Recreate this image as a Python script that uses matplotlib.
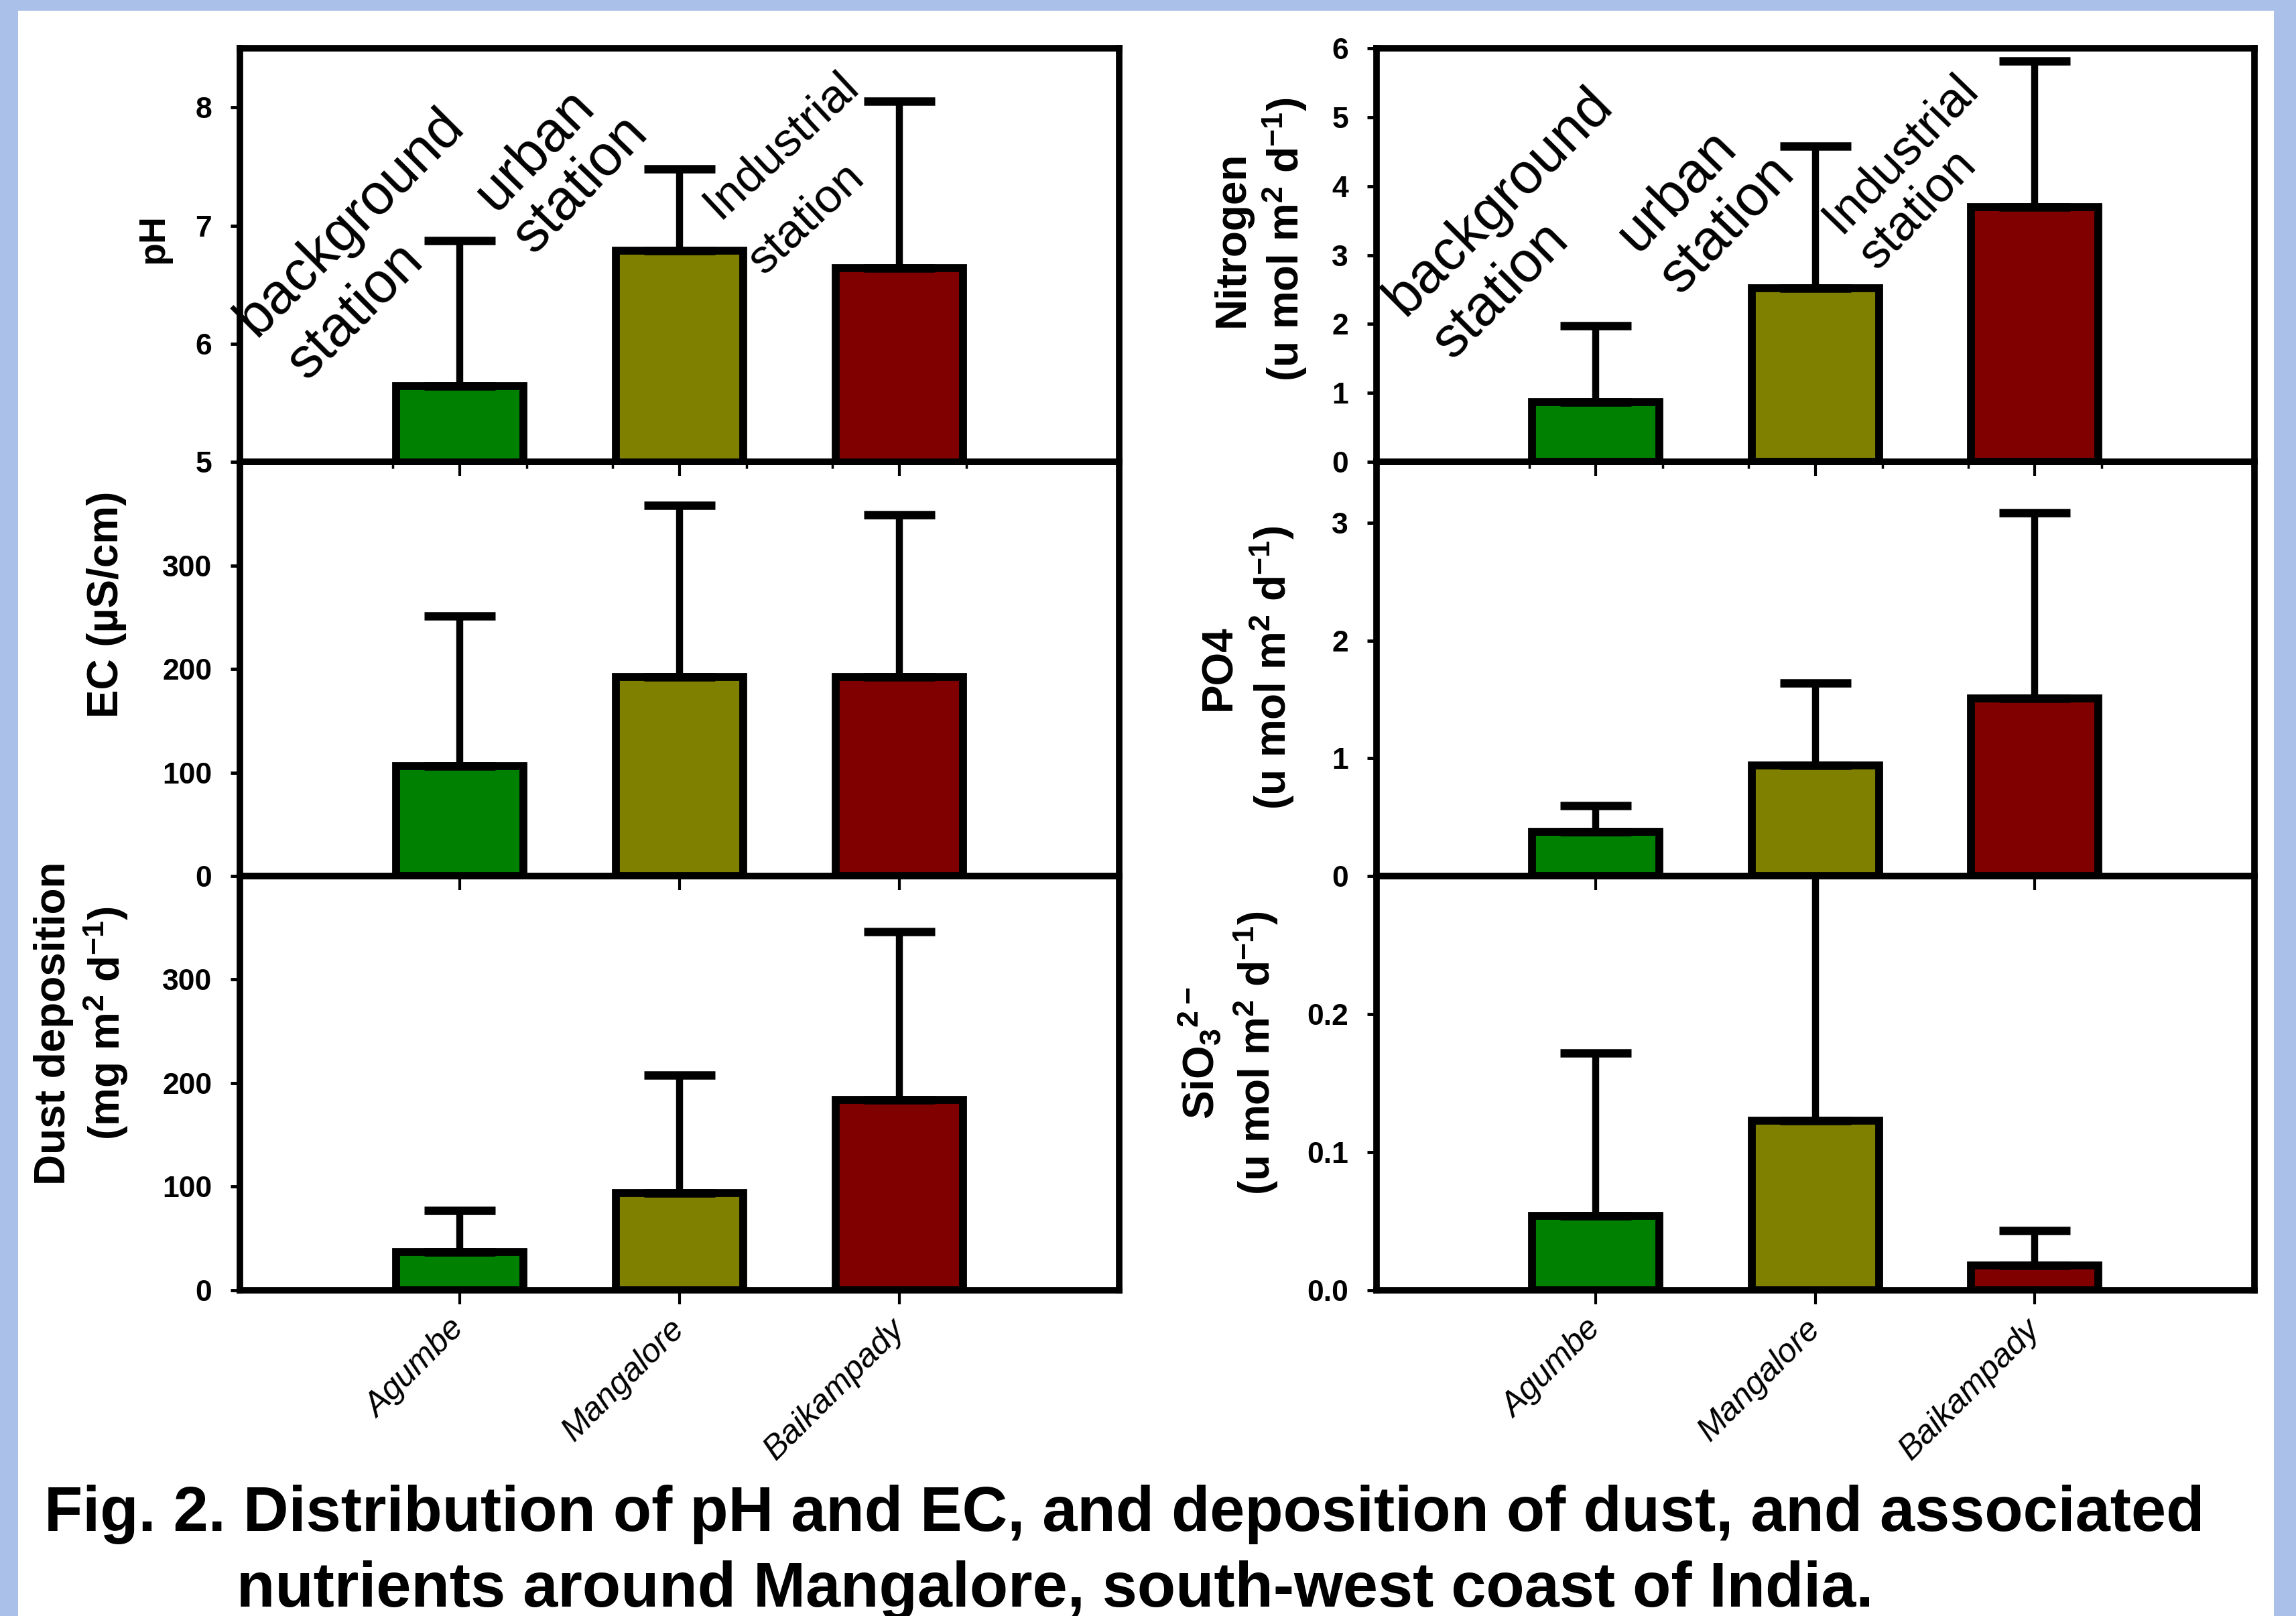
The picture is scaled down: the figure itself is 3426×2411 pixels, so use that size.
import numpy as np
import matplotlib
matplotlib.use('Agg')
import matplotlib.pyplot as plt
from matplotlib.patches import Rectangle
from matplotlib.ticker import FormatStrFormatter

##########################################################################
# data
##########################################################################
sites = ['Agumbe', 'Mangalore', 'Baikampady']
bar_colors = ['#008000', '#808000', '#800000']

ph_mean = [5.64, 6.79, 6.64]
ph_sd = [1.23, 0.69, 1.41]
ec_mean = [106, 192, 192]
ec_sd = [145, 166, 157]
dust_mean = [37, 94, 184]
dust_sd = [40, 114, 162]

nitrogen_mean = [0.87, 2.52, 3.70]
nitrogen_sd = [1.10, 2.06, 2.12]
po4_mean = [0.375, 0.94, 1.51]
po4_sd = [0.225, 0.70, 1.58]
sio3_mean = [0.054, 0.123, 0.018]
sio3_sd = [0.118, 0.25, 0.025]

caption = ['Fig. 2. Distribution of pH and EC, and deposition of dust, and associated',
           'nutrients around Mangalore, south-west coast of India.']

##########################################################################
# style
##########################################################################
plt.rcParams['font.family'] = ['Liberation Sans', 'DejaVu Sans']
plt.rcParams['mathtext.default'] = 'regular'

W = 0.58          # bar width
LW = 7            # spine width

fig = plt.figure(figsize=(34.26, 24.11), dpi=100)
fig.patch.set_facecolor('#abc0e8')
fig.patches.append(Rectangle((27/3426, 0), (3393-27)/3426, 1-16/2411,
                             transform=fig.transFigure, facecolor='white',
                             edgecolor='none', zorder=-10))


def panel(rect, mean, sd, ylim, yticks, ylabel, label_xy, fmt='%d',
          edge_ticks=False, xlabels=False, label_size=46):
    ax = fig.add_axes(rect)
    ax.patch.set_alpha(0)
    x = np.arange(1, len(sites) + 1)
    ax.bar(x, mean, width=W, color=bar_colors, edgecolor='k', linewidth=8.5, zorder=2)
    ax.errorbar(x, mean, yerr=[np.zeros(len(sd)), sd], fmt='none', ecolor='k',
                elinewidth=7.5, capsize=38, capthick=9, zorder=3)
    ax.set_xlim(0, 4)
    ax.set_ylim(*ylim)
    ax.set_yticks(yticks)
    ax.yaxis.set_major_formatter(FormatStrFormatter(fmt))
    ax.set_xticks(x)
    for s in ax.spines.values():
        s.set_linewidth(LW)
    ax.tick_params(axis='y', direction='out', length=10, width=3.5, pad=20,
                   labelsize=32)
    for t in ax.get_yticklabels():
        t.set_fontweight('bold')
    ax.tick_params(axis='x', direction='out', length=15, width=3, pad=22)
    if edge_ticks:
        ax.set_xticks(np.concatenate([x - W / 2 - 0.015, x + W / 2 + 0.015]), minor=True)
        ax.tick_params(axis='x', which='minor', direction='out', length=7, width=2.5)
    if xlabels:
        ax.set_xticklabels(sites, rotation=45, ha='right', va='center',
                           rotation_mode='anchor', fontsize=36, style='italic')
    else:
        ax.set_xticklabels([])
    ax.set_ylabel(ylabel, fontsize=label_size, fontweight='bold', va='center',
                  linespacing=1.2)
    ax.yaxis.set_label_coords(*label_xy)
    return ax


def station_notes(ax, spots, sizes, angles):
    words = [('background', 'station'), ('urban', 'station'), ('Industrial', 'station')]
    for (w1, w2), (p1, p2), fs, rot in zip(words, spots, sizes, angles):
        for w, p in ((w1, p1), (w2, p2)):
            ax.text(p[0], p[1], w, transform=ax.transAxes, fontsize=fs,
                    rotation=rot, rotation_mode='anchor', ha='left', va='baseline',
                    zorder=4)


##########################################################################
# panels
##########################################################################
xl, wl = 0.1045, 0.3830
xr, wr = 0.5995, 0.3824
rows = [(0.7142, 0.2559), (0.4579, 0.2563), (0.2016, 0.2563)]

ax_ph = panel([xl, rows[0][0], wl, rows[0][1]], ph_mean, ph_sd, (5, 8.5), [5, 6, 7, 8],
              'pH', (-0.098, 0.54), edge_ticks=True, label_size=40)
ax_ec = panel([xl, rows[1][0], wl, rows[1][1]], ec_mean, ec_sd, (0, 400), [0, 100, 200, 300],
              'EC (µS/cm)', (-0.152, 0.655))
ax_du = panel([xl, rows[2][0], wl, rows[2][1]], dust_mean, dust_sd, (0, 400), [0, 100, 200, 300],
              'Dust deposition\n(mg m$^{2}$ d$^{-1}$)', (-0.18, 0.644), xlabels=True)

ax_n = panel([xr, rows[0][0], wr, rows[0][1]], nitrogen_mean, nitrogen_sd, (0, 6), range(7),
             'Nitrogen\n(u mol m$^{2}$ d$^{-1}$)', (-0.132, 0.538), edge_ticks=True)
ax_p = panel([xr, rows[1][0], wr, rows[1][1]], po4_mean, po4_sd, (0, 3.52), [0, 1, 2, 3],
             'PO4\n(u mol m$^{2}$ d$^{-1}$)', (-0.147, 0.503))
ax_s = panel([xr, rows[2][0], wr, rows[2][1]], sio3_mean, sio3_sd, (0, 0.30), [0, 0.1, 0.2],
             'SiO$_3$$^{2-}$\n(u mol m$^{2}$ d$^{-1}$)', (-0.169, 0.573), fmt='%.1f',
             xlabels=True)

station_notes(ax_ph,
              [((0.018, 0.300), (0.076, 0.196)),
               ((0.290, 0.603), (0.334, 0.500)),
               ((0.545, 0.585), (0.596, 0.452))],
              [61, 61, 51], [45, 46, 43])
station_notes(ax_n,
              [((0.032, 0.350), (0.086, 0.246)),
               ((0.297, 0.503), (0.346, 0.403)),
               ((0.528, 0.550), (0.570, 0.462))],
              [61, 61, 53], [45, 46, 46])

# caption
fig.text(66 / 3426, 1 - 2284 / 2411, caption[0], fontsize=67.5, fontweight='bold',
         ha='left', va='baseline')
fig.text(353 / 3426, 1 - 2397 / 2411, caption[1], fontsize=67.5, fontweight='bold',
         ha='left', va='baseline')

fig.savefig('out.png', dpi=100, facecolor=fig.get_facecolor())
